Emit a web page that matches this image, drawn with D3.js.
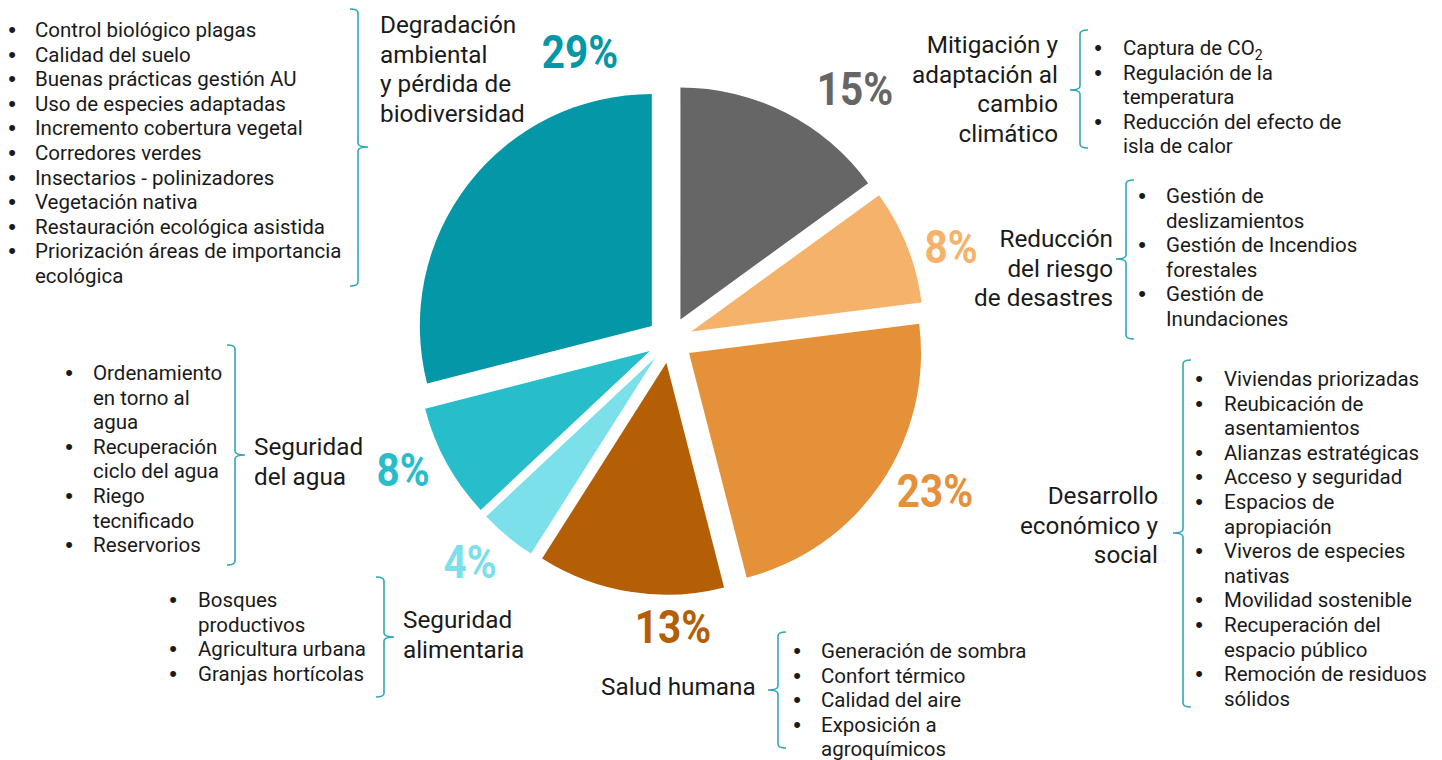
<!DOCTYPE html>
<meta charset="utf-8">
<style>
body { margin: 0; background: #fff; }
svg { display: block; }
.title { font-family: Roboto, "Noto Sans", sans-serif; font-size: 24.3px; fill: #1a1a1a; }
.item { font-family: Roboto, "Noto Sans", sans-serif; font-size: 20.5px; fill: #1a1a1a; }
.dot { font-family: "Liberation Sans", Arial, sans-serif; font-size: 22px; fill: #1a1a1a; text-anchor: middle; }
.pct { font-family: Roboto, sans-serif; font-weight: bold; font-size: 46px; text-anchor: middle; }
.brace { fill: none; stroke: #2fa8b6; stroke-width: 1.6; }
</style>
<body>
<script src="https://cdn.jsdelivr.net/npm/d3@7"></script>
<script>
// data
var categories = [
  "Mitigación y adaptación al cambio climático",
  "Reducción del riesgo de desastres",
  "Desarrollo económico y social",
  "Salud humana",
  "Seguridad alimentaria",
  "Seguridad del agua",
  "Degradación ambiental y pérdida de biodiversidad"
];
var shares = [15, 8, 23, 13, 4, 8, 29];
var colors = ["#666666", "#f5b26b", "#e5913a", "#b45f06", "#7be0ea", "#28bdcb", "#0397a7"];

var titleLines = [
  ["Mitigación y", "adaptación al", "cambio", "climático"],
  ["Reducción", "del riesgo", "de desastres"],
  ["Desarrollo", "económico y", "social"],
  ["Salud humana"],
  ["Seguridad", "alimentaria"],
  ["Seguridad", "del agua"],
  ["Degradación", "ambiental", "y pérdida de", "biodiversidad"]
];

// each item is a list of wrapped lines
var items = [
  [["Captura de CO|2"], ["Regulación de la", "temperatura"], ["Reducción del efecto de", "isla de calor"]],
  [["Gestión de", "deslizamientos"], ["Gestión de Incendios", "forestales"], ["Gestión de", "Inundaciones"]],
  [["Viviendas priorizadas"], ["Reubicación de", "asentamientos"], ["Alianzas estratégicas"], ["Acceso y seguridad"],
   ["Espacios de", "apropiación"], ["Viveros de especies", "nativas"], ["Movilidad sostenible"],
   ["Recuperación del", "espacio público"], ["Remoción de residuos", "sólidos"]],
  [["Generación de sombra"], ["Confort térmico"], ["Calidad del aire"], ["Exposición a", "agroquímicos"]],
  [["Bosques", "productivos"], ["Agricultura urbana"], ["Granjas hortícolas"]],
  [["Ordenamiento", "en torno al", "agua"], ["Recuperación", "ciclo del agua"], ["Riego", "tecnificado"], ["Reservorios"]],
  [["Control biológico plagas"], ["Calidad del suelo"], ["Buenas prácticas gestión AU"], ["Uso de especies adaptadas"],
   ["Incremento cobertura vegetal"], ["Corredores verdes"], ["Insectarios - polinizadores"], ["Vegetación nativa"],
   ["Restauración ecológica asistida"], ["Priorización áreas de importancia", "ecológica"]]
];

// layout of the annotations
var layout = [
  {tx: 1058, ty: 53, anchor: "end", bx: 1080, top: 30, bottom: 148, mid: 90, side: -1, dot: 1098, lx: 1123, ly: 55, px: 855, py: 105},
  {tx: 1113, ty: 247, anchor: "end", bx: 1126, top: 180, bottom: 339, mid: 259, side: -1, dot: 1142, lx: 1166, ly: 203, px: 951, py: 263},
  {tx: 1158, ty: 504, anchor: "end", bx: 1183, top: 360, bottom: 707, mid: 533, side: -1, dot: 1199, lx: 1224, ly: 386, px: 935, py: 507},
  {tx: 601, ty: 695, anchor: "start", bx: 778, top: 632, bottom: 748, mid: 690, side: -1, dot: 797, lx: 821, ly: 658, px: 673, py: 643},
  {tx: 403, ty: 628, anchor: "start", bx: 384, top: 577, bottom: 697, mid: 637, side: 1, dot: 173, lx: 198, ly: 607, px: 470, py: 578},
  {tx: 254, ty: 455, anchor: "start", bx: 235, top: 345, bottom: 565, mid: 455, side: 1, dot: 69, lx: 93, ly: 380, px: 403, py: 486},
  {tx: 380, ty: 33, anchor: "start", bx: 358, top: 9, bottom: 286, mid: 147, side: 1, dot: 12, lx: 35, ly: 37, px: 580, py: 68}
];

var width = 1442, height = 760;
var cx = 670, cy = 340, radius = 232, explode = 23;
var titleStep = 29.6, itemStep = 24.6;
var pctSqueeze = 0.88;

var svg = d3.select("body").append("svg")
    .attr("width", width)
    .attr("height", height);

var pie = d3.pie().sort(null).value(function(d) { return d; });
var arc = d3.arc().innerRadius(0).outerRadius(radius);
var arcs = pie(shares);

svg.append("g")
    .attr("transform", "translate(" + cx + "," + cy + ")")
  .selectAll("path")
    .data(arcs)
  .enter().append("path")
    .attr("d", arc)
    .attr("fill", function(d, i) { return colors[i]; })
    .attr("transform", function(d) {
      var a = (d.startAngle + d.endAngle) / 2;
      return "translate(" + (Math.sin(a) * explode) + "," + (-Math.cos(a) * explode) + ")";
    });

// percent labels (narrowed a bit, the original uses a condensed face)
svg.selectAll(".pct")
    .data(shares)
  .enter().append("text")
    .attr("class", "pct")
    .attr("transform", function(d, i) {
      return "translate(" + layout[i].px + "," + layout[i].py + ") scale(" + pctSqueeze + ",1)";
    })
    .attr("fill", function(d, i) { return colors[i]; })
    .text(function(d) { return d + "%"; });

function bracePath(L) {
  var x = L.bx, s = L.side, h = 8, r = 4, tip = 10;
  return "M" + (x - s * h) + "," + L.top +
    "Q" + x + "," + L.top + " " + x + "," + (L.top + r) +
    "L" + x + "," + (L.mid - r) +
    "Q" + x + "," + L.mid + " " + (x + s * tip) + "," + L.mid +
    "Q" + x + "," + L.mid + " " + x + "," + (L.mid + r) +
    "L" + x + "," + (L.bottom - r) +
    "Q" + x + "," + L.bottom + " " + (x - s * h) + "," + L.bottom;
}

categories.forEach(function(cat, i) {
  var L = layout[i];
  var g = svg.append("g").attr("class", "group");

  // title
  g.append("text")
      .attr("class", "title")
      .attr("text-anchor", L.anchor)
    .selectAll("tspan")
      .data(titleLines[i])
    .enter().append("tspan")
      .attr("x", L.tx)
      .attr("y", function(d, j) { return L.ty + j * titleStep; })
      .text(function(d) { return d; });

  g.append("path").attr("class", "brace").attr("d", bracePath(L));

  // bullet list
  var row = 0;
  items[i].forEach(function(lines) {
    g.append("text")
        .attr("class", "dot")
        .attr("x", L.dot)
        .attr("y", L.ly + row * itemStep)
        .text("•");
    lines.forEach(function(line) {
      var t = g.append("text")
          .attr("class", "item")
          .attr("x", L.lx)
          .attr("y", L.ly + row * itemStep);
      var parts = line.split("|");
      t.append("tspan").text(parts[0]);
      if (parts[1]) {
        t.append("tspan").attr("font-size", 14).attr("dy", 5).text(parts[1]);
      }
      row++;
    });
  });
});
</script>
</body>
